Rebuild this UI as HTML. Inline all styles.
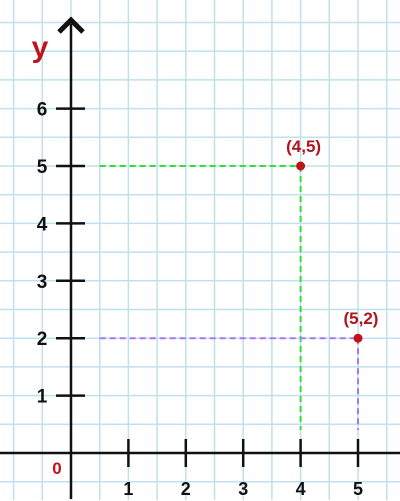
<!DOCTYPE html>
<html><head><meta charset="utf-8"><style>
html,body{margin:0;padding:0;background:#fff;width:400px;height:501px;overflow:hidden}
svg{display:block;overflow:hidden}
text{font-family:"Liberation Sans",sans-serif;font-weight:bold}
</style></head><body>
<svg id="c" width="400" height="501" viewBox="0 0 400 501"></svg>
<script>
const xTicks=[1,2,3,4,5];
const yTicks=[1,2,3,4,5,6];
const pointX=[4,5];
const pointY=[5,2];
const pointLabels=["(4,5)","(5,2)"];
const guideColors=["#33dd33","#aa77ee"];
const NS="http://www.w3.org/2000/svg";
const svg=document.getElementById('c');
const ox=71,oy=453,u=57.4;
const X=v=>ox+v*u, Y=v=>oy-v*u;
function mk(t,a,p){const e=document.createElementNS(NS,t);for(const k in a)e.setAttribute(k,a[k]);(p||svg).appendChild(e);return e;}
const grid=mk('g',{});


for(let i=-2;i<=11;i++){const x=ox+i*u/2;if(x<1||x>399)continue;mk('line',{x1:x,y1:0,x2:x,y2:500,stroke:'#bfe0ee','stroke-width':1.5},grid);}
for(let j=-1;j<=15;j++){const y=oy-j*u/2;if(y<1||y>499)continue;mk('line',{x1:0,y1:y,x2:400,y2:y,stroke:'#bfe0ee','stroke-width':1.5},grid);}
pointX.forEach((px,i)=>{
  const g=mk('g',{});
  
  
  mk('line',{x1:X(0.5),y1:Y(pointY[i]),x2:X(px),y2:Y(pointY[i]),stroke:guideColors[i],'stroke-width':2,'stroke-dasharray':'6,4'},g);
  mk('line',{x1:X(px),y1:Y(pointY[i]),x2:X(px),y2:Y(0.4),stroke:guideColors[i],'stroke-width':2,'stroke-dasharray':'6,4'},g);
});
const xa=mk('line',{x1:0,y1:oy,x2:400,y2:oy,stroke:'#111','stroke-width':2.5});


const ya=mk('line',{x1:ox,y1:24,x2:ox,y2:499,stroke:'#111','stroke-width':2.5});


const ar=mk('path',{d:`M${ox-12},32 L${ox},20 L${ox+12},32`,fill:'none',stroke:'#111','stroke-width':5});


xTicks.forEach(v=>{
  const t=mk('line',{x1:X(v),y1:oy-14,x2:X(v),y2:oy+14,stroke:'#111','stroke-width':2.5});
  
  
  const l=mk('text',{x:X(v),y:495,'font-size':18,'text-anchor':'middle',fill:'#111'});l.textContent=v;
  
  
});
yTicks.forEach(v=>{
  const t=mk('line',{x1:ox-15,y1:Y(v),x2:ox+14,y2:Y(v),stroke:'#111','stroke-width':2.5});
  
  
  const l=mk('text',{x:42,y:Y(v)+7,'font-size':19,'text-anchor':'middle',fill:'#111'});l.textContent=v;
  
  
});
const z=mk('text',{x:57,y:474,'font-size':17,'text-anchor':'middle',fill:'#c0141c'});z.textContent='0';


const yl=mk('text',{x:40,y:57,'font-size':30,'text-anchor':'middle',fill:'#c0141c'});yl.textContent='y';


pointX.forEach((px,i)=>{
  const c=mk('circle',{cx:X(px),cy:Y(pointY[i]),r:4.5,fill:'#c0141c'});
  
  
  const l=mk('text',{x:X(px)+3,y:Y(pointY[i])-14,'font-size':17,'text-anchor':'middle',fill:'#b0141c'});l.textContent=pointLabels[i];
  
  
});
</script>
</body></html>
